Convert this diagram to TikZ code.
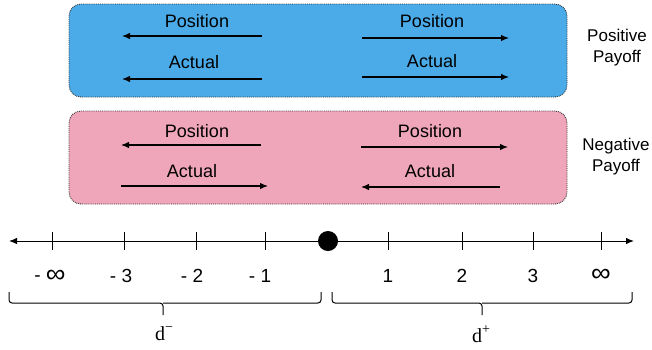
\documentclass[tikz,border=0pt]{standalone}
\usepackage{fontspec}
\usepackage{graphicx}
\setmainfont{Liberation Sans}
\newfontfamily\dserif{Liberation Serif}
\usetikzlibrary{arrows.meta}
\definecolor{posblue}{RGB}{74,171,232}
\definecolor{negpink}{RGB}{240,166,186}
\newcommand{\biginf}{\raisebox{-0.05em}{\scalebox{1.45}[1.35]{∞}}}
\begin{document}
\begin{tikzpicture}[x=1pt,y=-1pt,
  boxstyle/.style={draw=black!80, densely dotted, line width=0.9pt, rounded corners=12pt, minimum width=498pt, minimum height=93pt, inner sep=0pt},
  arr/.style={-{Latex[length=8pt,width=6.5pt]}, line width=1.2pt},
  lbl/.style={font=\fontsize{18}{20}\selectfont, inner sep=0pt},
  numlbl/.style={font=\fontsize{19}{21}\selectfont, inner sep=0pt},
  side/.style={font=\fontsize{17}{21}\selectfont, inner sep=0pt, align=center},
  tick/.style={line width=1pt},
  bracestyle/.style={line width=1pt, rounded corners=3pt},
  dlbl/.style={font=\dserif\fontsize{20}{22}\selectfont, inner sep=0pt}]
\useasboundingbox (0,0) rectangle (652,349);

% boxes
\node[boxstyle, fill=posblue] (pbox) at (318,50.5) {};
\node[boxstyle, fill=negpink] (nbox) at (318,157.5) {};

% positive box content
\node[lbl] (p1) at (197,21) {Position};
\node[lbl] (p2) at (194,62) {Actual};
\node[lbl] (p3) at (432,21) {Position};
\node[lbl] (p4) at (432,61) {Actual};
\coordinate (a1s) at (262,36); \coordinate (a1e) at (122,36);
\coordinate (a2s) at (262,79); \coordinate (a2e) at (122,79);
\coordinate (a3s) at (362,38); \coordinate (a3e) at (509,38);
\coordinate (a4s) at (362,77); \coordinate (a4e) at (509,77);
\draw[arr] (a1s) -- (a1e);
\draw[arr] (a2s) -- (a2e);
\draw[arr] (a3s) -- (a3e);
\draw[arr] (a4s) -- (a4e);

% negative box content
\node[lbl] (n1) at (197,131) {Position};
\node[lbl] (n2) at (192,171) {Actual};
\node[lbl] (n3) at (430,131) {Position};
\node[lbl] (n4) at (430,171) {Actual};
\coordinate (b1s) at (261,145); \coordinate (b1e) at (121,145);
\coordinate (b2s) at (121,186); \coordinate (b2e) at (268,186);
\coordinate (b3s) at (361,147); \coordinate (b3e) at (508,147);
\coordinate (b4s) at (500,187); \coordinate (b4e) at (361,187);
\draw[arr] (b1s) -- (b1e);
\draw[arr] (b2s) -- (b2e);
\draw[arr] (b3s) -- (b3e);
\draw[arr] (b4s) -- (b4e);

% side labels
\node[side] (pos) at (617,48) {Positive\\Payoff};
\node[side] (neg) at (616,157) {Negative\\Payoff};

% number line
\coordinate (nl) at (9,241);
\coordinate (nr) at (634,241);
\draw[{Latex[length=8pt,width=6.5pt]}-{Latex[length=8pt,width=6.5pt]}, line width=1pt] (nl) -- (nr);
\foreach \x in {52,124,196,265,388,462,533,601}
  \draw[tick] (\x,232) -- (\x,250);
\fill (328,241) circle (10pt) node (zero) {};

\node[numlbl] (m4) at (50,276) {- \biginf};
\node[numlbl] (m3) at (121,276) {- 3};
\node[numlbl] (m2) at (192,276) {- 2};
\node[numlbl] (m1) at (260,276) {- 1};
\node[numlbl] (q1) at (388,276) {1};
\node[numlbl] (q2) at (462,276) {2};
\node[numlbl] (q3) at (533,276) {3};
\node[numlbl] (q4) at (601,275) {\biginf};

% braces
\draw[bracestyle] (9,292) -- (9,303) -- (163,303) -- (163,315);
\draw[bracestyle] (163,303) -- (321,303) -- (321,292);
\draw[bracestyle] (332,292) -- (332,303) -- (482,303) -- (482,315);
\draw[bracestyle] (482,303) -- (632,303) -- (632,292);

\node[dlbl] (dm) at (164,334) {d\raisebox{0.45em}{\fontsize{14}{15}\selectfont −}};
\node[dlbl] (dp) at (481,334) {d\raisebox{0.45em}{\fontsize{14}{15}\selectfont +}};
\end{tikzpicture}
\end{document}
